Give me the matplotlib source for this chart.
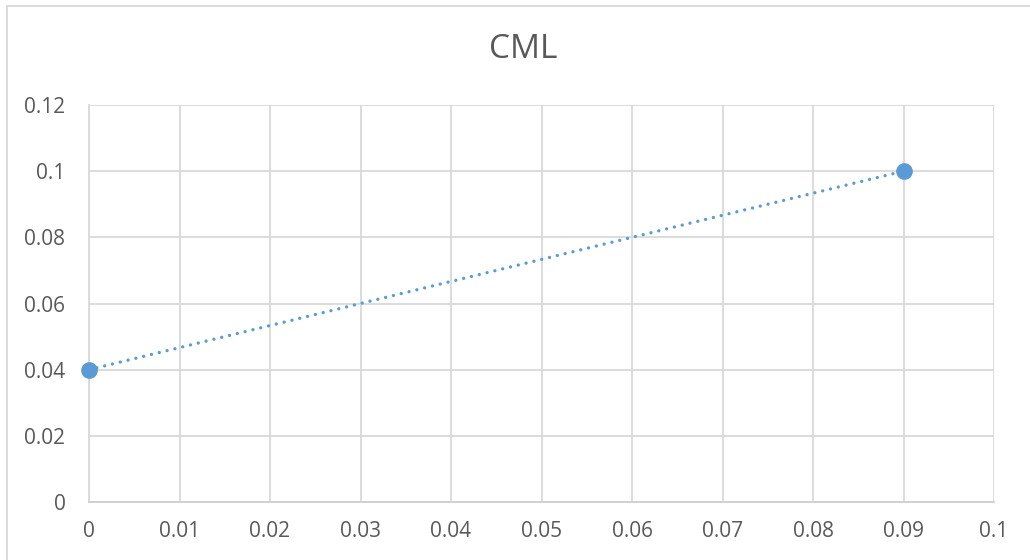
import matplotlib
matplotlib.use("Agg")
import matplotlib.pyplot as plt
from matplotlib.patches import Rectangle

x_vals = [0, 0.09]
y_vals = [0.04, 0.1]
x_ticks = [0, 0.01, 0.02, 0.03, 0.04, 0.05, 0.06, 0.07, 0.08, 0.09, 0.1]
x_labels = ["0", "0.01", "0.02", "0.03", "0.04", "0.05", "0.06", "0.07", "0.08", "0.09", "0.1"]
y_ticks = [0, 0.02, 0.04, 0.06, 0.08, 0.1, 0.12]
y_labels = ["0", "0.02", "0.04", "0.06", "0.08", "0.1", "0.12"]
title = "CML"

plt.rcParams['font.family'] = ['Open Sans', 'DejaVu Sans']
txt = "#595959"
grid = "#d9d9d9"
col = "#5b9bd5"

fig = plt.figure(figsize=(10.3, 5.6), dpi=100)
ax = fig.add_axes([89/1030, 58/560, (994-89)/1030, (502-105)/560])

ax.plot(x_vals, y_vals, color=col, lw=2.4, dashes=(0.01, 2.4), dash_capstyle='round', zorder=3)
ax.plot(x_vals, y_vals, ls='none', marker='o', ms=11, color=col, zorder=4, clip_on=False)

ax.set_xlim(0, 0.1)
ax.set_ylim(0, 0.12)
ax.set_xticks(x_ticks)
ax.set_xticklabels(x_labels)
ax.set_yticks(y_ticks)
ax.set_yticklabels(y_labels)
ax.grid(True, color=grid, lw=1.3)
ax.set_axisbelow(True)
for s in ['top', 'right']:
    ax.spines[s].set_visible(False)
ax.spines['left'].set_color(grid)
ax.spines['left'].set_linewidth(1.3)
ax.spines['bottom'].set_color("#cfcfcf")
ax.spines['bottom'].set_linewidth(1.3)
ax.tick_params(axis='y', length=0, pad=17, labelsize=15, labelcolor=txt)
ax.tick_params(axis='x', length=0, pad=14, labelsize=15, labelcolor=txt)

fig.text(523/1030, 1 - 50/560, title, ha='center', va='center', fontsize=24, color=txt)

fig.patches.append(Rectangle((7/1030, -10/560), 1.05, (554 + 10)/560, transform=fig.transFigure,
                             fill=False, edgecolor=grid, lw=1.3, clip_on=False))

fig.savefig("out.png", dpi=100)
